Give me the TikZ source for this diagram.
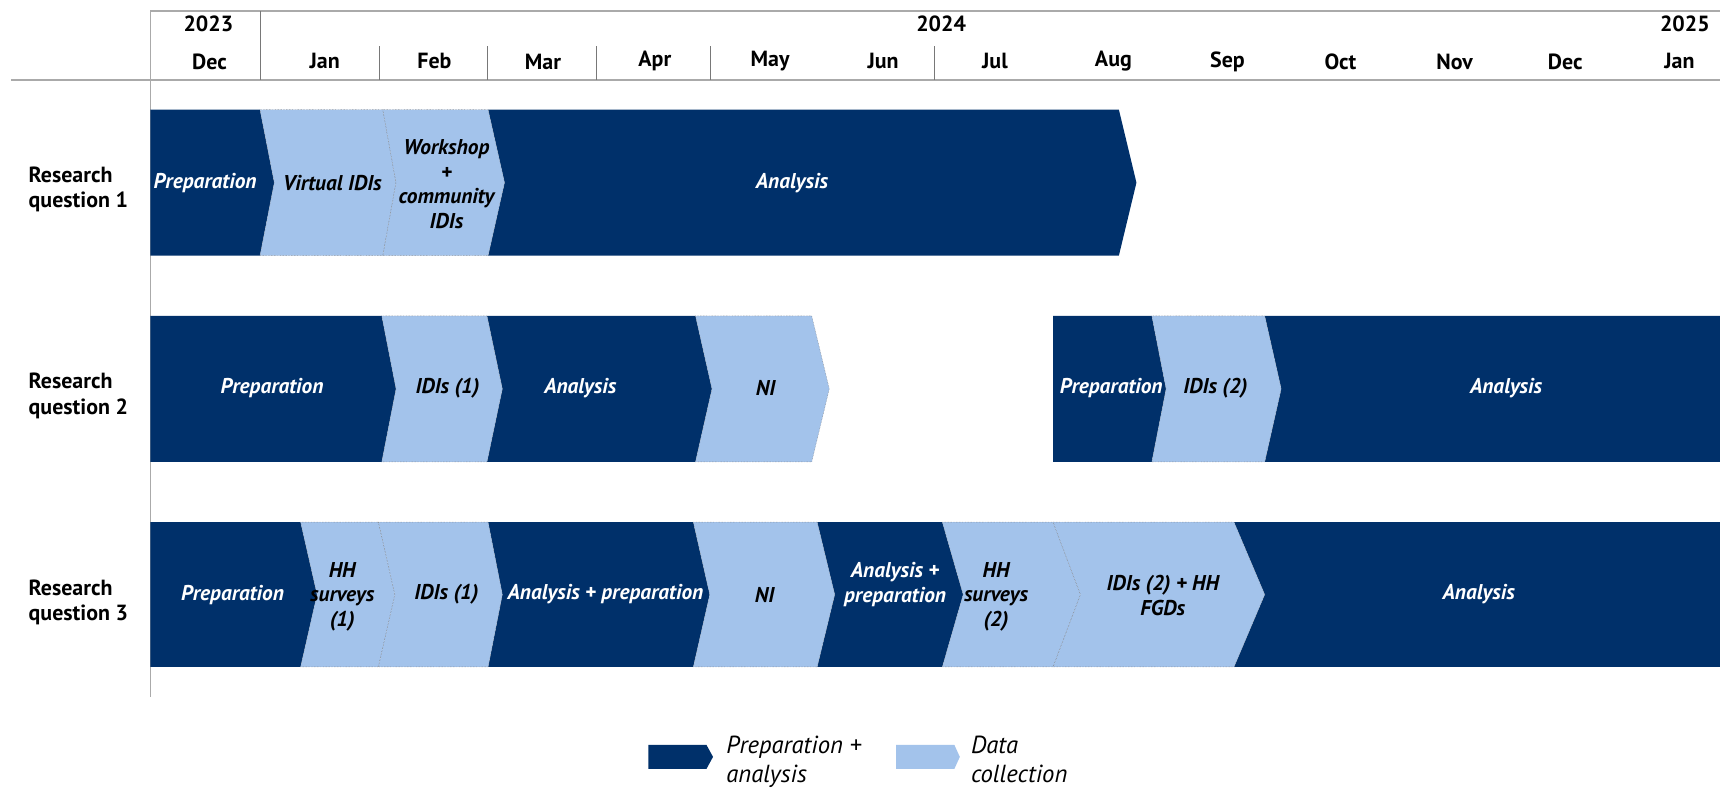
\documentclass[tikz,border=0pt]{standalone}
\usepackage{fontspec}
\setmainfont{PT Sans}
\definecolor{navy}{RGB}{0,48,106}
\definecolor{sky}{RGB}{163,195,235}
\definecolor{gridgray}{RGB}{170,170,170}
\definecolor{divgray}{RGB}{120,120,120}
% #1 left x, #2 notch x, #3 right x, #4 point x, #5 top y, #6 bottom y, #7 style
\newcommand{\chevshape}[7]{%
  \path[#7] (#1,#5) -- (#3,#5) -- (#4,{(#5+#6)/2}) -- (#3,#6) -- (#1,#6) -- (#2,{(#5+#6)/2}) -- cycle;}
\tikzset{
  darkbox/.style={fill=navy},
  lightbox/.style={fill=sky, draw=divgray, densely dotted, line width=0.4pt},
  boxtxt/.style={font=\fontsize{19.5}{22.5}\selectfont\bfseries\itshape, align=center, inner sep=0pt},
  ondark/.style={boxtxt, text=white},
  onlight/.style={boxtxt, text=black},
  headtxt/.style={font=\fontsize{20}{22}\selectfont\bfseries, inner sep=0pt},
  rowlab/.style={font=\fontsize{20}{23}\selectfont\bfseries, align=left, anchor=west, inner sep=0pt},
  legtxt/.style={font=\fontsize{22.5}{28}\selectfont\itshape, anchor=base west, inner sep=0pt},
}
\begin{document}
\begin{tikzpicture}[x=1pt,y=-1pt]
\useasboundingbox (0,0) rectangle (1568,718);
% header grid
\draw[gridgray, line width=1.4pt] (137,10) -- (1568,10);
\draw[gridgray, line width=1.1pt] (10,73) -- (1568,73);
\draw[gridgray, line width=0.8pt] (137,10) -- (137,635);
\draw[divgray, line width=0.8pt] (237,10) -- (237,73);
\foreach \dx in {346,444,544,648,852} \draw[divgray, line width=0.8pt] (\dx,42) -- (\dx,73);
% years
\node[headtxt] (yr23) at (190,22) {2023};
\node[headtxt] (yr24) at (858,22) {2024};
\node[headtxt] (yr25) at (1536,22) {2025};
% months
\foreach \mx/\mn [count=\k] in {191/Dec,296/Jan,396/Feb,495/Mar,597/Apr,702/May,805/Jun,907/Jul,1015/Aug,1119/Sep,1222/Oct,1326/Nov,1427/Dec,1531/Jan}
  \node[headtxt] (mon\k) at (\mx,56) {\mn};
% row labels
\node[rowlab] (rq1) at (26,173) {Research\\question 1};
\node[rowlab] (rq2) at (26,361) {Research\\question 2};
\node[rowlab] (rq3) at (26,549) {Research\\question 3};
% row 1
\chevshape{137}{137}{237}{250}{100}{233}{darkbox}
\chevshape{445}{460}{1020}{1036}{100}{233}{darkbox}
\chevshape{237}{250}{349}{361}{100}{233}{lightbox}
\chevshape{349}{361}{445}{460}{100}{233}{lightbox}
\node[ondark] (r1a) at (187,167) {Preparation};
\node[onlight] (r1b) at (303,167) {Virtual IDIs};
\node[onlight] (r1c) at (407,168) {Workshop\\+\\community\\IDIs};
\node[ondark] (r1d) at (722,167) {Analysis};
% row 2
\chevshape{137}{137}{348}{361}{288}{421}{darkbox}
\chevshape{444}{458}{634}{649}{288}{421}{darkbox}
\chevshape{960}{960}{1050}{1063}{288}{421}{darkbox}
\chevshape{1153}{1168}{1568}{1568}{288}{421}{darkbox}
\chevshape{348}{361}{444}{458}{288}{421}{lightbox}
\chevshape{634}{649}{740}{756}{288}{421}{lightbox}
\chevshape{1050}{1063}{1153}{1168}{288}{421}{lightbox}
\node[ondark] (r2a) at (248,354) {Preparation};
\node[onlight] (r2b) at (408,354) {IDIs (1)};
\node[ondark] (r2c) at (529,354) {Analysis};
\node[onlight] (r2d) at (698,354) {NI};
\node[ondark] (r2e) at (1013,354) {Preparation};
\node[onlight] (r2f) at (1108,354) {IDIs (2)};
\node[ondark] (r2g) at (1373,354) {Analysis};
% row 3
\chevshape{137}{137}{274}{289}{476}{608}{darkbox}
\chevshape{445}{458}{632}{647}{476}{608}{darkbox}
\chevshape{745}{761}{859}{878}{476}{608}{darkbox}
\chevshape{1125}{1153}{1568}{1568}{476}{608}{darkbox}
\chevshape{274}{289}{345}{360}{476}{608}{lightbox}
\chevshape{345}{360}{445}{458}{476}{608}{lightbox}
\chevshape{632}{647}{745}{761}{476}{608}{lightbox}
\chevshape{859}{878}{960}{985}{476}{608}{lightbox}
\chevshape{960}{985}{1125}{1153}{476}{608}{lightbox}
\node[ondark] (r3a) at (212,542) {Preparation};
\node[onlight] (r3b) at (312,544) {HH\\surveys\\(1)};
\node[onlight] (r3c) at (407,542) {IDIs (1)};
\node[ondark] (r3d) at (552,542) {Analysis + preparation};
\node[onlight] (r3e) at (697,542) {NI};
\node[ondark] (r3f) at (816,533) {Analysis +\\preparation};
\node[onlight] (r3g) at (908,544) {HH\\surveys\\(2)};
\node[onlight] (r3h) at (1060,543) {IDIs (2) + HH\\FGDs};
\node[ondark] (r3i) at (1348,542) {Analysis};
% legend
\path[fill=navy] (591,679) -- (644,679) -- (650,690) -- (644,701) -- (591,701) -- cycle;
\path[fill=sky] (817,679) -- (870,679) -- (875,690) -- (870,701) -- (817,701) -- cycle;
\node[legtxt] (lg1a) at (662,687) {Preparation +};
\node[legtxt] (lg1b) at (662,713) {analysis};
\node[legtxt] (lg2a) at (885,687) {Data};
\node[legtxt] (lg2b) at (885,713) {collection};
\end{tikzpicture}
\end{document}
